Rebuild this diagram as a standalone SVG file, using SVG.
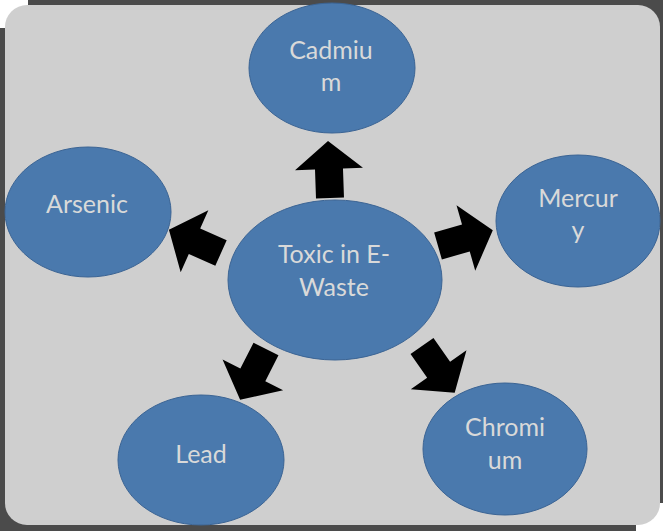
<svg xmlns="http://www.w3.org/2000/svg" xmlns:xlink="http://www.w3.org/1999/xlink" width="663" height="531" viewBox="0 0 663 531">
  <style>
    .node ellipse { fill: #4a79ad; stroke: #3b6494; stroke-width: 1; }
    .node text { font-family: Lato, "Open Sans", sans-serif; font-size: 25px; fill: #d9d9d9; text-anchor: middle; }
    .arrow { fill: #000000; }
  </style>
  <defs>
    <polygon id="arr" points="0,-14 29,-14 29,-34 57,0 29,34 29,14 0,14"/>
  </defs>
  <g id="frame">
    <rect x="0" y="0" width="663" height="531" fill="#4b4b4b"/>
    <rect x="0" y="0" width="28" height="28" fill="#ffffff"/>
    <rect x="636" y="503" width="27" height="28" fill="#ffffff"/>
    <rect x="5" y="5" width="655" height="520" rx="22" ry="22" fill="#cfcfcf"/>
  </g>
  <g id="connectors">
    <use xlink:href="#arr" class="arrow" transform="translate(330,198) rotate(-92)"/>
    <use xlink:href="#arr" class="arrow" transform="translate(221,253) rotate(204)"/>
    <use xlink:href="#arr" class="arrow" transform="translate(438,246) rotate(-16)"/>
    <use xlink:href="#arr" class="arrow" transform="translate(266,349) rotate(117)"/>
    <use xlink:href="#arr" class="arrow" transform="translate(422,346) rotate(55)"/>
  </g>
  <g id="center" class="node">
    <ellipse cx="335" cy="280" rx="107" ry="80"/>
    <text x="334" y="263">Toxic in E-</text>
    <text x="334" y="296">Waste</text>
  </g>
  <g id="cadmium" class="node">
    <ellipse cx="332" cy="68" rx="83" ry="65"/>
    <text x="331" y="59">Cadmiu</text>
    <text x="331" y="91">m</text>
  </g>
  <g id="arsenic" class="node">
    <ellipse cx="88" cy="212" rx="83" ry="65"/>
    <text x="87" y="213">Arsenic</text>
  </g>
  <g id="mercury" class="node">
    <ellipse cx="578" cy="221" rx="82" ry="66"/>
    <text x="578" y="207">Mercur</text>
    <text x="578" y="239">y</text>
  </g>
  <g id="lead" class="node">
    <ellipse cx="201" cy="460" rx="83" ry="65"/>
    <text x="201" y="463">Lead</text>
  </g>
  <g id="chromium" class="node">
    <ellipse cx="505" cy="449" rx="82" ry="66"/>
    <text x="505" y="436">Chromi</text>
    <text x="505" y="469">um</text>
  </g>
</svg>
